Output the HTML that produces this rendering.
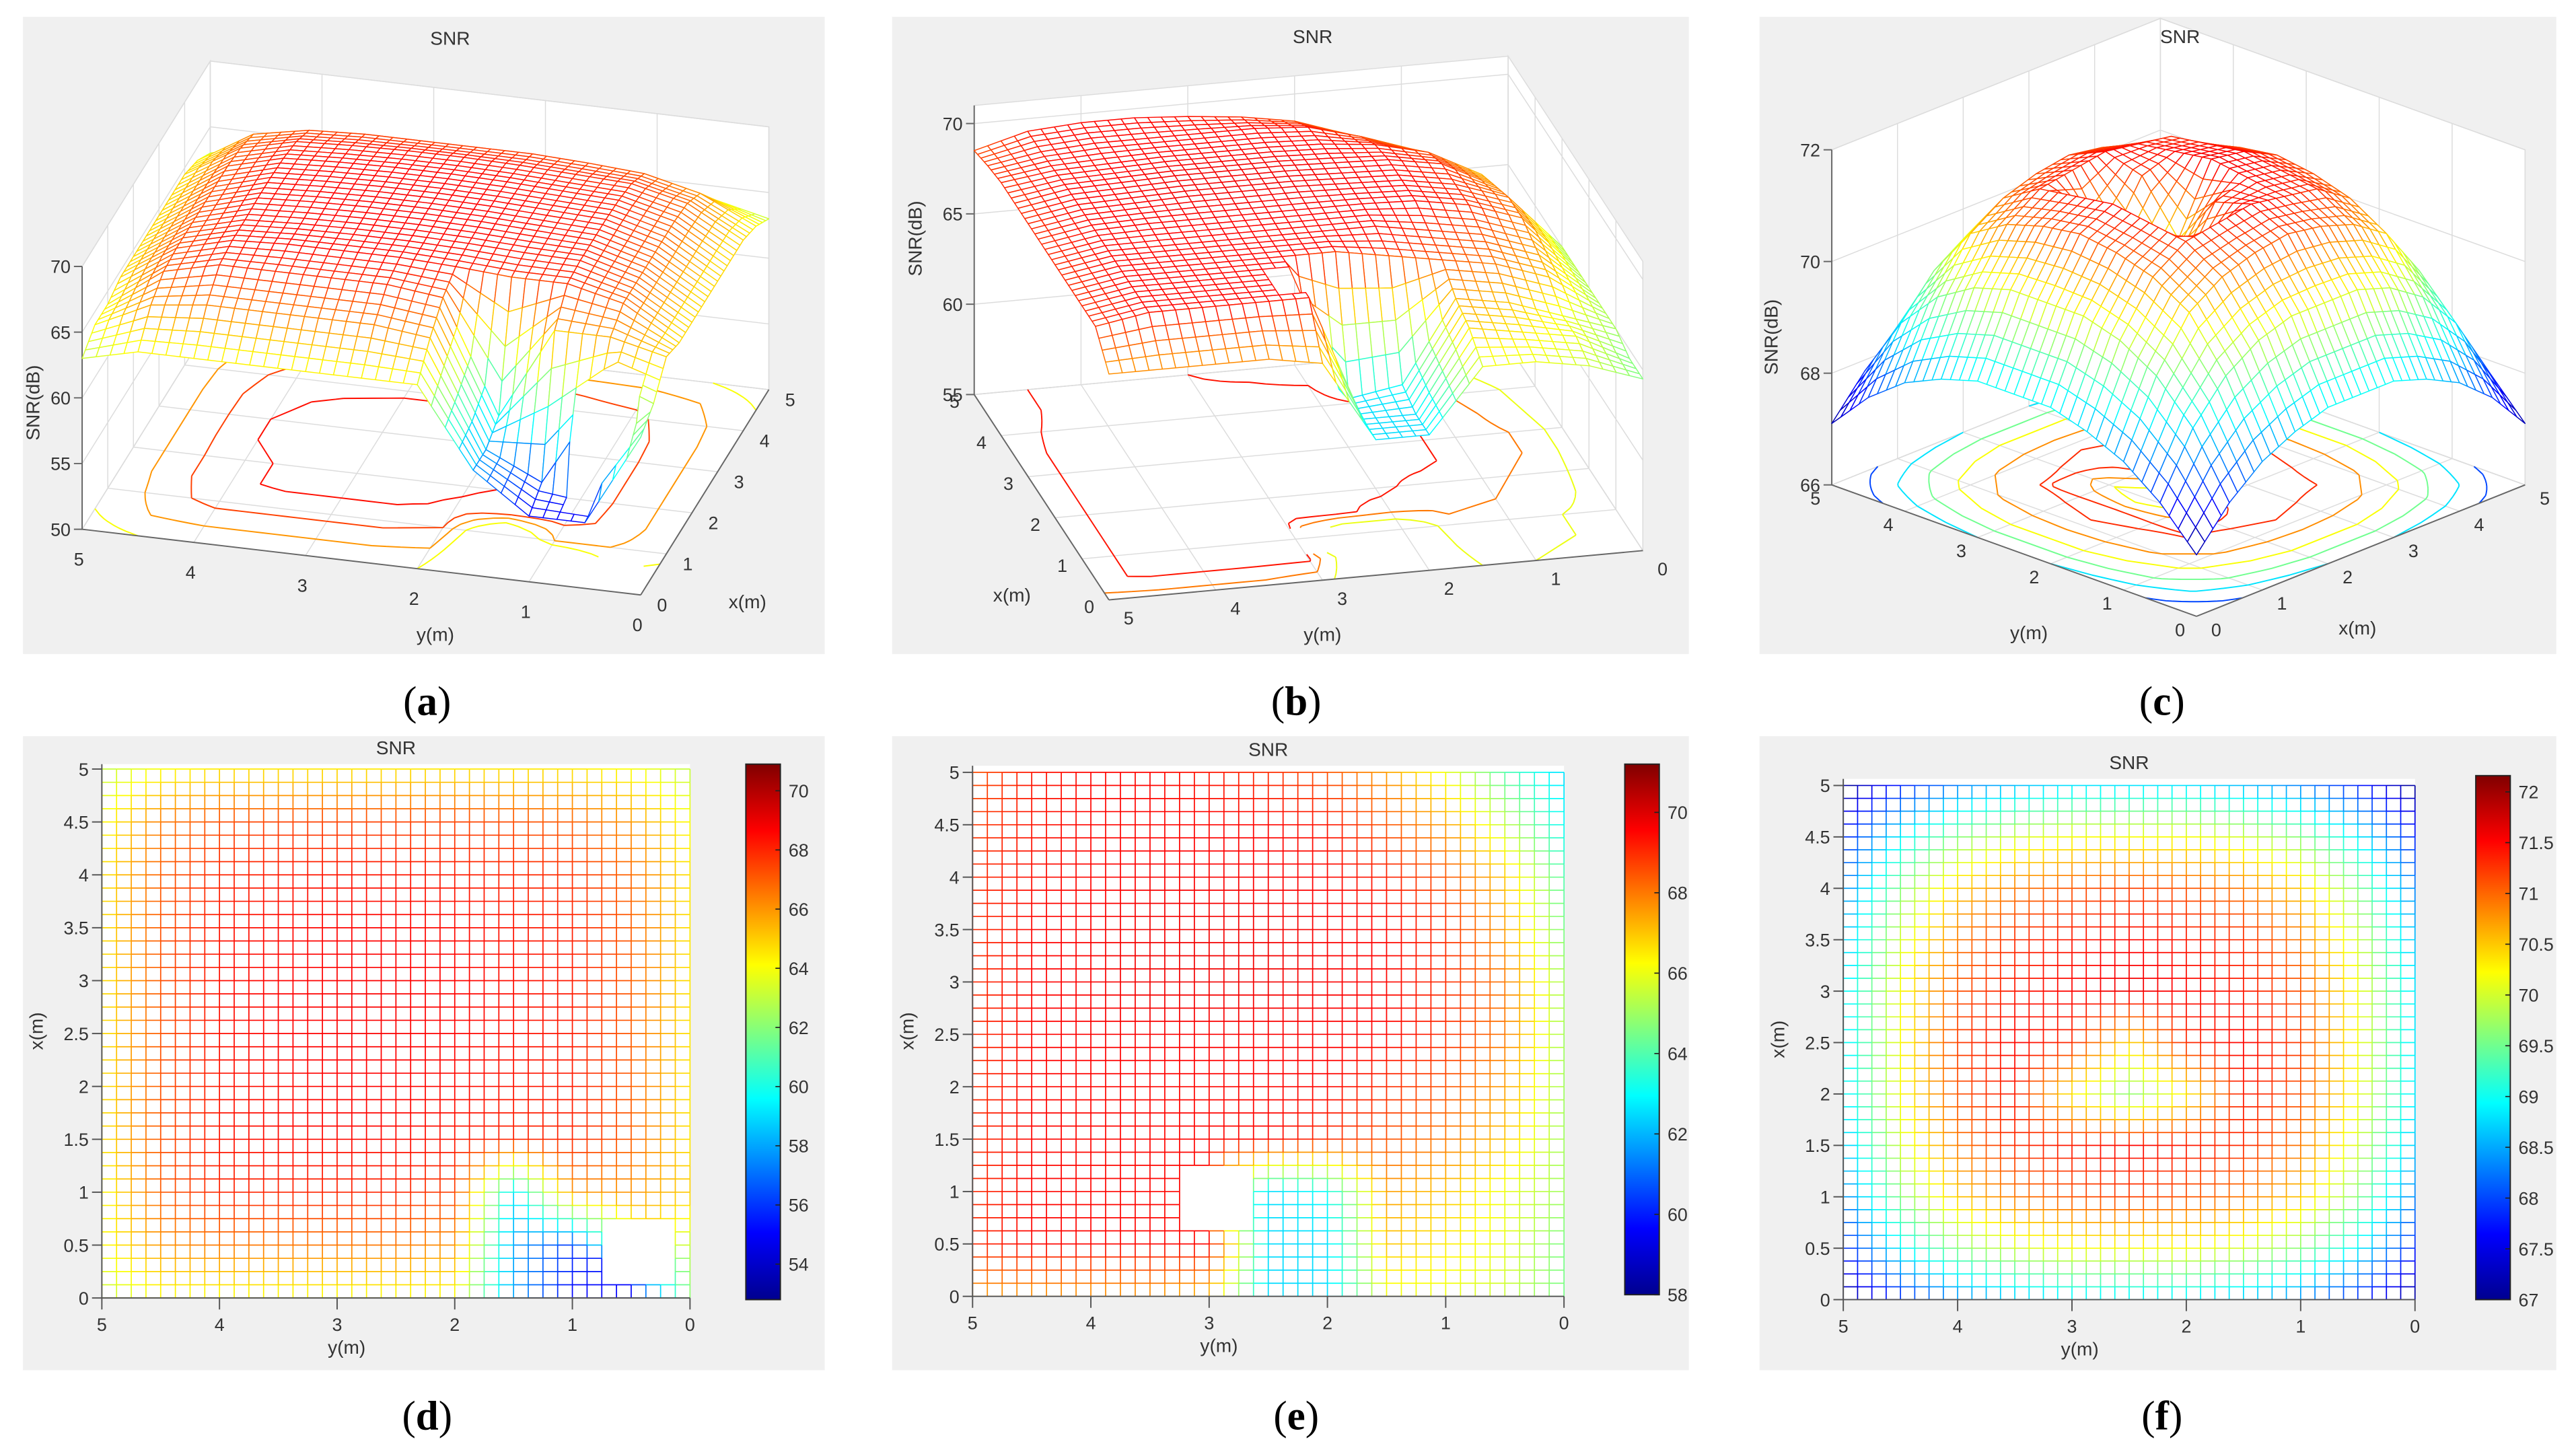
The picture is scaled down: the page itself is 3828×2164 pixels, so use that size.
<!DOCTYPE html>
<html><head><meta charset="utf-8"><style>
html,body{margin:0;padding:0;background:#fff;width:3828px;height:2164px;overflow:hidden}
svg{display:block}
text{font-family:"Liberation Sans",sans-serif;fill:#333}
.cap{font-family:"Liberation Serif",serif;font-size:25px;fill:#000}
</style></head><body>
<svg id="root" xmlns="http://www.w3.org/2000/svg" width="3828" height="2164" viewBox="0 0 1568 886">
<defs>
<linearGradient id="jetgrad" x1="0" y1="1" x2="0" y2="0">
<stop offset="0" stop-color="#00008f"/><stop offset="0.125" stop-color="#0000ff"/><stop offset="0.375" stop-color="#00ffff"/><stop offset="0.625" stop-color="#ffff00"/><stop offset="0.875" stop-color="#ff0000"/><stop offset="1" stop-color="#800000"/>
</linearGradient>
<clipPath id="clipA"><rect x="14" y="10" width="488" height="388"/></clipPath>
<clipPath id="clipB"><rect x="543" y="10" width="485" height="388"/></clipPath>
<clipPath id="clipC"><rect x="1071" y="10" width="485" height="388"/></clipPath>
</defs>
<rect x="14" y="10" width="488" height="388" fill="#f0f0f0"/>
<rect x="543" y="10" width="485" height="388" fill="#f0f0f0"/>
<rect x="1071" y="10" width="485" height="388" fill="#f0f0f0"/>
<rect x="14" y="448" width="488" height="386" fill="#f0f0f0"/>
<rect x="543" y="448" width="485" height="386" fill="#f0f0f0"/>
<rect x="1071" y="448" width="485" height="386" fill="#f0f0f0"/>
<g id="layer"></g>
<text class="cap" x="260" y="435" text-anchor="middle">(<tspan font-weight="bold">a</tspan>)</text>
<text class="cap" x="789" y="435" text-anchor="middle">(<tspan font-weight="bold">b</tspan>)</text>
<text class="cap" x="1316" y="435" text-anchor="middle">(<tspan font-weight="bold">c</tspan>)</text>
<text class="cap" x="260" y="870" text-anchor="middle">(<tspan font-weight="bold">d</tspan>)</text>
<text class="cap" x="789" y="870" text-anchor="middle">(<tspan font-weight="bold">e</tspan>)</text>
<text class="cap" x="1316" y="870" text-anchor="middle">(<tspan font-weight="bold">f</tspan>)</text>
</svg>
<script>
// ---- data: SNR (dB) sampled at x = 0..5 step 0.5 (rows), y = 0..5 step 0.5 (cols)
const gridX = [0,0.5,1,1.5,2,2.5,3,3.5,4,4.5,5];
const gridY = [0,0.5,1,1.5,2,2.5,3,3.5,4,4.5,5];
const snrA = [
 [62,55,55,58,64,64,64,64,64,64,63],
 [63,null,56,58,66,66.5,66.5,66.5,66.5,66,64],
 [65,66,66,59,67.5,68,68,68,68,67,64],
 [64.5,67,68,68,68.3,68.5,68.5,68.5,68.3,67.2,64.5],
 [64.5,67,68.2,68.3,68.5,68.6,68.6,68.5,68.3,67.2,64.5],
 [64.5,67,68.2,68.4,68.6,68.7,68.7,68.6,68.4,67.2,64.5],
 [64.5,67,68.2,68.4,68.6,68.7,68.7,68.6,68.4,67.2,64.5],
 [64.5,67,68.1,68.3,68.5,68.6,68.6,68.5,68.3,67.2,64.5],
 [64.5,66.8,67.8,68,68.2,68.3,68.3,68.2,68,67,64.5],
 [64,66,67,67.3,67.5,67.5,67.5,67.5,67.3,66.5,64],
 [63,64,64.5,64.5,64.5,64.5,64.5,64.5,64.5,64,63]
];
const snrB = [
 [64.5,65.5,66,66,62.5,62.5,67,67.5,67.5,67.5,67.5],
 [64.5,66,66.5,67,62.5,62.5,69.5,69.5,69.5,69.5,69],
 [65,66,67,67.5,63,62.5,null,69.5,69.5,69.5,69],
 [65,67,68,68.5,69,69.5,69.5,69.5,69.5,69.5,69],
 [65,67.5,68.5,69,69.5,69.5,69.5,69.5,69.5,69.5,69],
 [65,68,69,69.5,69.6,69.6,69.6,69.6,69.6,69.5,69],
 [65,68,69,69.5,69.6,69.7,69.7,69.7,69.6,69.5,69],
 [64.5,67.5,69,69.5,69.6,69.7,69.7,69.7,69.6,69.5,69],
 [64,67,68.5,69.2,69.5,69.6,69.6,69.6,69.5,69.4,69],
 [63,65.5,67.5,68.5,69.3,69.5,69.5,69.5,69.5,69.3,68.8],
 [62.5,64,66,67.5,68.5,69,69.3,69.5,69.5,69.3,68.5]
];
const snrC = [
 [67.1,67.8,68.3,68.6,68.8,68.8,68.8,68.6,68.3,67.8,67.1],
 [67.8,68.9,69.6,70,70.2,70.2,70.2,70,69.6,68.9,67.8],
 [68.3,69.6,70.5,70.9,71.1,71.2,71.1,70.9,70.5,69.6,68.3],
 [68.6,70,70.9,71.3,71.4,71.5,71.4,71.3,70.9,70,68.6],
 [68.8,70.2,71.1,71.4,70.3,69.6,70.3,71.4,71.1,70.2,68.8],
 [68.8,70.2,71.2,71.5,71.3,70.4,71.3,71.5,71.2,70.2,68.8],
 [68.8,70.2,71.1,71.4,71.5,71.6,71.5,71.4,71.1,70.2,68.8],
 [68.6,70,70.9,71.3,71.4,71.5,71.4,71.3,70.9,70,68.6],
 [68.3,69.6,70.5,70.9,71.1,71.2,71.1,70.9,70.5,69.6,68.3],
 [67.8,68.9,69.6,70,70.2,70.2,70.2,70,69.6,68.9,67.8],
 [67.1,67.8,68.3,68.6,68.8,68.8,68.8,68.6,68.3,67.8,67.1]
];
const xTickLabels = ["0","0.5","1","1.5","2","2.5","3","3.5","4","4.5","5"];
const yTickLabels = ["0","1","2","3","4","5"];
const zTicksA = [50,55,60,65,70];
const zTicksB = [55,60,65,70];
const zTicksC = [66,68,70,72];
const cbTicksD = [54,56,58,60,62,64,66,68,70];
const cbTicksE = [58,60,62,64,66,68,70];
const cbTicksF = [67,67.5,68,68.5,69,69.5,70,70.5,71,71.5,72];
const contourA = [64,66,67.5,68.4];
const contourB = [66,68,69.3];
const contourC = [68,68.8,69.5,70.2,70.8,71.3];

const NS="http://www.w3.org/2000/svg";
const layer=document.getElementById('layer');
function mk(tag,attrs,parent){const e=document.createElementNS(NS,tag);for(const k in attrs)e.setAttribute(k,attrs[k]);(parent||layer).appendChild(e);return e;}
function clamp(v){return Math.max(0,Math.min(1,v));}
function jet(t){t=clamp(t);const r=clamp(1.5-Math.abs(4*t-3)),g=clamp(1.5-Math.abs(4*t-2)),b=clamp(1.5-Math.abs(4*t-1));return 'rgb('+Math.round(r*255)+','+Math.round(g*255)+','+Math.round(b*255)+')';}
const R=4;
function refine(M){const n=M.length,N=(n-1)*R+1,out=[];for(let i=0;i<N;i++){out.push([]);for(let j=0;j<N;j++){const gi=i/R,gj=j/R;const i0=Math.min(Math.floor(gi),n-2),j0=Math.min(Math.floor(gj),n-2);const fi=gi-i0,fj=gj-j0;
  const near=M[Math.round(gi)][Math.round(gj)];
  if(near==null){out[i].push(null);continue;}
  let c=[M[i0][j0],M[i0][j0+1],M[i0+1][j0],M[i0+1][j0+1]];
  const ok=c.filter(q=>q!=null);const avg=ok.reduce((s,q)=>s+q,0)/ok.length;
  c=c.map(q=>q==null?avg:q);
  out[i].push(c[0]*(1-fi)*(1-fj)+c[1]*(1-fi)*fj+c[2]*fi*(1-fj)+c[3]*fi*fj);}}return out;}
function gx(i,N){return gridX[0]+(gridX[gridX.length-1]-gridX[0])*i/(N-1);}
function gy(j,N){return gridY[0]+(gridY[gridY.length-1]-gridY[0])*j/(N-1);}
function txt(x,y,s,size,anchor,parent,rot){const t=mk('text',{x:x,y:y,'font-size':size,'text-anchor':anchor||'middle'},parent);if(rot)t.setAttribute('transform','rotate(-90 '+x+' '+y+')');t.textContent=s;return t;}

// ---------- 2D panels ----------
function panel2D(M,cfg){
  const g=mk('g',{});
  
  
  const sx=y=>cfg.L+(5-y)/5*(cfg.R-cfg.L);
  const sy=x=>cfg.B-x/5*(cfg.B-cfg.T5);
  const cv=v=>jet((v-cfg.cmin)/(cfg.cmax-cfg.cmin));
  const bg=mk('rect',{x:cfg.L,y:cfg.top,width:cfg.R-cfg.L,height:cfg.B-cfg.top,fill:'#fff'},g);
  
  
  const F=refine(M),N=F.length;
  const mesh=mk('g',{'stroke-width':0.7,fill:'none'},g);
  
  
  for(let i=0;i<N;i++)for(let j=0;j<N;j++){
    const v=F[i][j];if(v==null)continue;
    if(j+1<N&&F[i][j+1]!=null){const l=mk('line',{x1:sx(gy(j,N)),y1:sy(gx(i,N)),x2:sx(gy(j+1,N)),y2:sy(gx(i,N)),stroke:cv((v+F[i][j+1])/2)},mesh);
      
      }
    if(i+1<N&&F[i+1][j]!=null){const l=mk('line',{x1:sx(gy(j,N)),y1:sy(gx(i,N)),x2:sx(gy(j,N)),y2:sy(gx(i+1,N)),stroke:cv((v+F[i+1][j])/2)},mesh);
      
      }
  }
  const ax=mk('g',{stroke:'#555','stroke-width':0.8},g);
  
  
  mk('line',{x1:cfg.L,y1:cfg.B,x2:cfg.R,y2:cfg.B},ax);
  mk('line',{x1:cfg.L,y1:cfg.B,x2:cfg.L,y2:cfg.top},ax);
  xTickLabels.forEach(s=>{const v=parseFloat(s),yy=sy(v);mk('line',{x1:cfg.L-6,y1:yy,x2:cfg.L,y2:yy},ax);
    const t=txt(cfg.L-8,yy+4,s,11,'end',g);
    
    });
  yTickLabels.forEach(s=>{const v=parseFloat(s),xx=sx(v);mk('line',{x1:xx,y1:cfg.B,x2:xx,y2:cfg.B+7},ax);
    const t=txt(xx,cfg.B+20,s,11,'middle',g);
    
    });
  const xl=txt(cfg.L-36,(cfg.B+cfg.top)/2,'x(m)',11.5,'middle',g,true);
  
  
  const yl=txt((cfg.L+cfg.R)/2-30,cfg.B+34,'y(m)',11.5,'middle',g);
  
  
  const ti=txt((cfg.L+cfg.R)/2,cfg.top-6,'SNR',11.5,'middle',g);
  
  
  const [cx0,cx1,cy0,cy1]=cfg.cb;
  const cb=mk('rect',{x:cx0,y:cy0,width:cx1-cx0,height:cy1-cy0,fill:'url(#jetgrad)',stroke:'#222','stroke-width':0.8},g);
  
  
  const cy=v=>cy1-(v-cfg.cmin)/(cfg.cmax-cfg.cmin)*(cy1-cy0);
  cfg.ticks.forEach(v=>{mk('line',{x1:cx1-3,y1:cy(v),x2:cx1,y2:cy(v),stroke:'#222','stroke-width':0.7},g);
    const t=txt(cx1+5,cy(v)+4,String(v),11,'start',g);
    
    });
}
panel2D(snrA,{name:'panel-d-snr-top-view',L:62,R:420,B:790,T5:468,top:465,cb:[454,475,465,791],cmin:52.8,cmax:70.9,ticks:cbTicksD});
panel2D(snrB,{name:'panel-e-snr-top-view',L:592,R:952,B:789,T5:470,top:466,cb:[989,1010,465,788],cmin:58,cmax:71.2,ticks:cbTicksE});
panel2D(snrC,{name:'panel-f-snr-top-view',L:1122,R:1470,B:791,T5:478,top:474,cb:[1507,1528,472,791],cmin:67,cmax:72.16,ticks:cbTicksF});

// ---------- 3D panels ----------
function panel3D(M,cfg){
  const g=mk('g',{'clip-path':'url(#'+cfg.clip+')'});
  
  
  const P=(x,y,z)=>[cfg.O[0]+x*cfg.ex[0]+y*cfg.ey[0], cfg.O[1]+x*cfg.ex[1]+y*cfg.ey[1]-(z-cfg.z0)*cfg.ez];
  const pts=a=>a.map(p=>p[0].toFixed(2)+','+p[1].toFixed(2)).join(' ');
  const cv=v=>jet((v-cfg.cmin)/(cfg.cmax-cfg.cmin));
  const z0=cfg.z0,zt=cfg.zt;
  const walls=mk('g',{fill:'#fff',stroke:'#dcdcdc','stroke-width':0.6},g);
  
  
  mk('polygon',{points:pts([P(0,0,z0),P(5,0,z0),P(5,5,z0),P(0,5,z0)])},walls);
  cfg.walls.forEach(w=>{
    if(w.fix==='x'){mk('polygon',{points:pts([P(w.v,0,z0),P(w.v,5,z0),P(w.v,5,zt),P(w.v,0,zt)])},walls);
      for(let y=0;y<=5;y++){const a=P(w.v,y,z0),b=P(w.v,y,zt);mk('line',{x1:a[0],y1:a[1],x2:b[0],y2:b[1]},walls);}
      cfg.zt_.forEach(z=>{const a=P(w.v,0,z),b=P(w.v,5,z);mk('line',{x1:a[0],y1:a[1],x2:b[0],y2:b[1]},walls);});}
    else{mk('polygon',{points:pts([P(0,w.v,z0),P(5,w.v,z0),P(5,w.v,zt),P(0,w.v,zt)])},walls);
      for(let x=0;x<=5;x++){const a=P(x,w.v,z0),b=P(x,w.v,zt);mk('line',{x1:a[0],y1:a[1],x2:b[0],y2:b[1]},walls);}
      cfg.zt_.forEach(z=>{const a=P(0,w.v,z),b=P(5,w.v,z);mk('line',{x1:a[0],y1:a[1],x2:b[0],y2:b[1]},walls);});}
  });
  for(let k=0;k<=5;k++){let a=P(k,0,z0),b=P(k,5,z0);mk('line',{x1:a[0],y1:a[1],x2:b[0],y2:b[1]},walls);a=P(0,k,z0);b=P(5,k,z0);mk('line',{x1:a[0],y1:a[1],x2:b[0],y2:b[1]},walls);}
  const F=refine(M),N=F.length;
  const cont=mk('g',{fill:'none','stroke-width':0.8},g);
  
  
  cfg.levels.forEach(L=>{let d='';
    for(let i=0;i<N-1;i++)for(let j=0;j<N-1;j++){
      const c=[[i,j],[i,j+1],[i+1,j+1],[i+1,j]];const v=c.map(p=>F[p[0]][p[1]]);if(v.some(q=>q==null))continue;
      const hits=[];for(let e=0;e<4;e++){const a=v[e],b=v[(e+1)%4];if((a<L)!==(b<L)){const t=(L-a)/(b-a);const p=c[e],q=c[(e+1)%4];
        hits.push(P(gx(p[0]+(q[0]-p[0])*t,N),gy(p[1]+(q[1]-p[1])*t,N),z0));}}
      for(let h=0;h+1<hits.length;h+=2)d+='M'+hits[h][0].toFixed(2)+' '+hits[h][1].toFixed(2)+'L'+hits[h+1][0].toFixed(2)+' '+hits[h+1][1].toFixed(2);
    }
    const p=mk('path',{d:d,stroke:cv(L)},cont);
    
    
  });
  const ax=mk('g',{stroke:'#666','stroke-width':0.8},g);
  
  
  let a=P(0,0,z0),b=P(0,5,z0);mk('line',{x1:a[0],y1:a[1],x2:b[0],y2:b[1]},ax);
  a=P(0,cfg.xEdge[1],z0);b=P(5,cfg.xEdge[1],z0);mk('line',{x1:a[0],y1:a[1],x2:b[0],y2:b[1]},ax);
  a=P(cfg.zc[0],cfg.zc[1],z0);b=P(cfg.zc[0],cfg.zc[1],zt);mk('line',{x1:a[0],y1:a[1],x2:b[0],y2:b[1]},ax);
  yTickLabels.forEach(s=>{const v=+s;const p=P(0,v,z0);const t=txt(p[0]+cfg.yOff[0],p[1]+cfg.yOff[1],s,11,'middle',g);
    
    });
  yTickLabels.forEach(s=>{const v=+s;const p=P(v,cfg.xEdge[1],z0);const t=txt(p[0]+cfg.xOff[0],p[1]+cfg.xOff[1],s,11,'middle',g);
    
    });
  cfg.zt_.forEach(z=>{const p=P(cfg.zc[0],cfg.zc[1],z);mk('line',{x1:p[0]-5,y1:p[1],x2:p[0],y2:p[1]},ax);
    const t=txt(p[0]-7,p[1]+4,String(z),11,'end',g);
    
    });
  const cells=[];
  for(let i=0;i<N-1;i++)for(let j=0;j<N-1;j++){
    const v=[F[i][j],F[i][j+1],F[i+1][j+1],F[i+1][j]];if(v.some(q=>q==null))continue;
    const xm=gx(i+0.5,N),ym=gy(j+0.5,N);cells.push({i,j,v,k:cfg.depth(xm,ym)});
  }
  cells.sort((p,q)=>q.k-p.k);
  const surf=mk('g',{fill:'#fff','stroke-width':0.6,'stroke-linejoin':'round'},g);
  
  
  cells.forEach(c=>{const {i,j,v}=c;
    const poly=[P(gx(i,N),gy(j,N),v[0]),P(gx(i,N),gy(j+1,N),v[1]),P(gx(i+1,N),gy(j+1,N),v[2]),P(gx(i+1,N),gy(j,N),v[3])];
    const e=mk('polygon',{points:pts(poly),stroke:cv((v[0]+v[1]+v[2]+v[3])/4)},surf);
    
    });
  const ti=txt(cfg.title[0],cfg.title[1],'SNR',11.5,'middle',g);
  
  
  const xl=txt(cfg.xl[0],cfg.xl[1],'x(m)',11.5,'middle',g);
  
  
  const yl=txt(cfg.yl[0],cfg.yl[1],'y(m)',11.5,'middle',g);
  
  
  const zl=txt(cfg.zl[0],cfg.zl[1],'SNR(dB)',11.5,'middle',g,true);
  
  
}
panel3D(snrA,{name:'panel-a-snr-surface',clip:'clipA',O:[390,362],ex:[15.6,-25],ey:[-68,-8],ez:8,z0:50,zt:70,zt_:zTicksA,
  walls:[{fix:'y',v:5},{fix:'x',v:5}],depth:(x,y)=>x+0.2*y,cmin:52.8,cmax:70.9,levels:contourA,
  xEdge:[0,0],zc:[0,5],yOff:[-2,22],xOff:[13,10],title:[274,27],xl:[455,370],yl:[265,390],zl:[24,245]});
panel3D(snrB,{name:'panel-b-snr-surface',clip:'clipB',O:[1000,335],ex:[-16.4,-25],ey:[-65,6],ez:11,z0:55,zt:71,zt_:zTicksB,
  walls:[{fix:'x',v:5},{fix:'y',v:0}],depth:(x,y)=>x+0.15*(5-y),cmin:58,cmax:71.2,levels:contourB,
  xEdge:[0,5],zc:[5,5],yOff:[12,15],xOff:[-12,8],title:[799,26],xl:[616,366],yl:[805,390],zl:[561,145]});
panel3D(snrC,{name:'panel-c-snr-surface',clip:'clipC',O:[1337,375],ex:[40,-16],ey:[-44.4,-16],ez:34,z0:66,zt:72,zt_:zTicksC,
  walls:[{fix:'x',v:5},{fix:'y',v:5}],depth:(x,y)=>x+y,cmin:67,cmax:72.16,levels:contourC,
  xEdge:[0,0],zc:[0,5],yOff:[-10,12],xOff:[12,12],title:[1327,26],xl:[1435,386],yl:[1235,389],zl:[1082,205]});
</script>
</body></html>
